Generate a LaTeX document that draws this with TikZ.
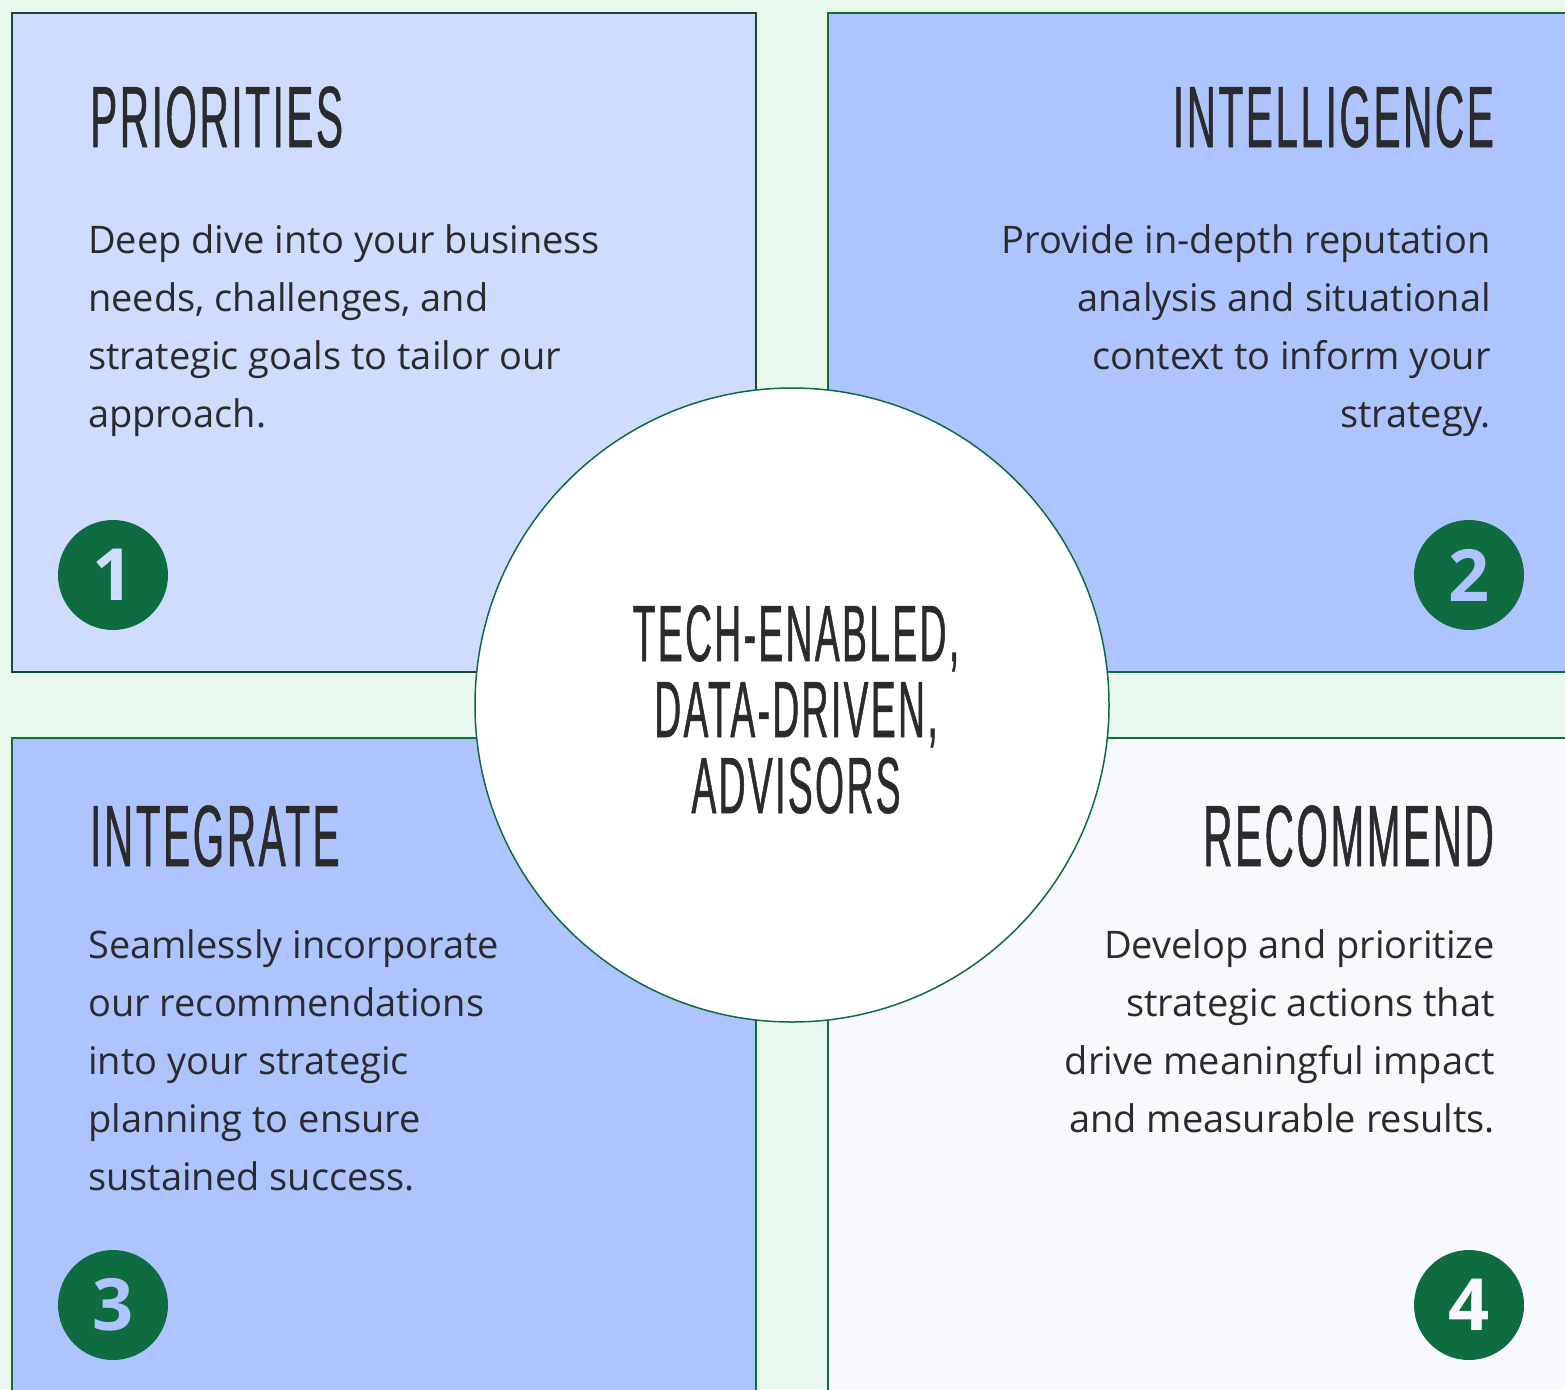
\documentclass[tikz,border=0pt]{standalone}
\usepackage{fontspec}
\setmainfont{Open Sans}
\newfontfamily\headfont[FakeStretch=0.465, FakeBold=0.6, LetterSpace=3]{Liberation Sans}
\newfontfamily\numfont{Open Sans}
\usepackage{tikz}

\definecolor{mint}{HTML}{E8F8EC}
\definecolor{paleblue}{HTML}{D0DCFE}
\definecolor{midblue}{HTML}{AEC4FE}
\definecolor{whiteblue}{HTML}{F7F9FF}
\definecolor{darkgreen}{HTML}{0F6B40}
\definecolor{pinegreen}{HTML}{1C4532}
\definecolor{ink}{HTML}{2B2B2B}

\begin{document}
\begin{tikzpicture}[x=1pt, y=-1pt,
    panel/.style={line width=2pt, draw=darkgreen},
    heading/.style={inner sep=0, text=ink, font=\headfont\fontsize{87}{87}\selectfont},
    body/.style={inner sep=0, text=ink, font=\fontsize{38}{58}\selectfont},
    badge/.style={circle, fill=darkgreen, minimum size=110pt, inner sep=0,
        font=\numfont\bfseries\fontsize{72}{72}\selectfont}]

    % Background
    \fill[mint] (0,0) rectangle (1565,1389);
    \useasboundingbox (0,0) rectangle (1565,1389);
    \clip (0,0) rectangle (1565,1389);

    % Draw panels
    \draw[panel, fill=paleblue, draw=pinegreen] (12,13) rectangle (756,672);
    \draw[panel, fill=midblue] (828,13) rectangle (1600,672);
    \draw[panel, fill=midblue] (12,738) rectangle (756,1420);
    \draw[panel, fill=whiteblue] (828,738) rectangle (1600,1420);

    % Headings
    \node[heading, anchor=base west] (prio) at (90,147) {PRIORITIES};
    \node[heading, anchor=base east] (intel) at (1494,147) {INTELLIGENCE};
    \node[heading, anchor=base west] (integ) at (90,866) {INTEGRATE};
    \node[heading, anchor=base east] (recom) at (1494,866) {RECOMMEND};

    % Body texts
    \node[body, align=left, anchor=north west] (priotext) at (88,224)
        {Deep dive into your business\\needs, challenges, and\\strategic goals to tailor our\\approach.};
    \node[body, align=right, anchor=north east] (inteltext) at (1491,224)
        {Provide in-depth reputation\\analysis and situational\\context to inform your\\strategy.};
    \node[body, align=left, anchor=north west] (integtext) at (88,929)
        {Seamlessly incorporate\\our recommendations\\into your strategic\\planning to ensure\\sustained success.};
    \node[body, align=right, anchor=north east] (recomtext) at (1495,929)
        {Develop and prioritize\\strategic actions that\\drive meaningful impact\\and measurable results.};

    % Number badges
    \foreach \n/\px/\py/\col in {1/113/575/paleblue, 2/1469/575/midblue,
                                 3/113/1305/midblue, 4/1469/1305/whiteblue}
        \node[badge, text=\col] (badge\n) at (\px,\py) {\n};

    % Centre circle
    \node[circle, draw=darkgreen, fill=white, line width=1.5pt,
          minimum size=634pt, inner sep=0] (hub) at (792,705) {};
    \node[inner sep=0, text=ink, align=center, anchor=north,
          font=\headfont\fontsize{80}{76}\selectfont] (hubtext) at (796,605)
        {TECH-ENABLED,\\DATA-DRIVEN,\\ADVISORS};
\end{tikzpicture}
\end{document}
